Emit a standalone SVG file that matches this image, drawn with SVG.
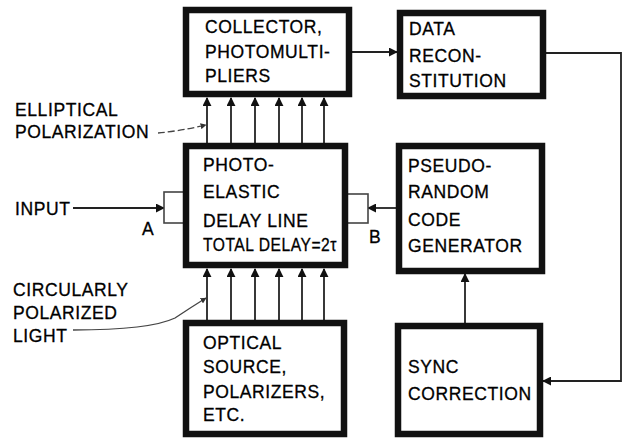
<svg xmlns="http://www.w3.org/2000/svg" width="624" height="439" viewBox="0 0 624 439">
<defs>
<style>
.box{fill:#fff;stroke:#111;stroke-width:6.5}
.port{fill:#fff;stroke:#444;stroke-width:1.6}
.t{font-family:"Liberation Sans",Arial,sans-serif;font-size:17.5px;fill:#000;stroke:#000;stroke-width:0.3;letter-spacing:0.6px}
.ln{fill:none;stroke:#222;stroke-width:1.8}
.lead{fill:none;stroke:#444;stroke-width:1.3}
</style>
<marker id="ahb" viewBox="0 0 10 10" refX="9" refY="5" markerWidth="9" markerHeight="9" markerUnits="userSpaceOnUse" orient="auto">
<path d="M0,0 L10,5 L0,10 z" fill="#111"/>
</marker>
<marker id="ahs" viewBox="0 0 10 10" refX="9" refY="5" markerWidth="6" markerHeight="6" markerUnits="userSpaceOnUse" orient="auto">
<path d="M0,0 L10,5 L0,10 z" fill="#333"/>
</marker>
</defs>
<rect width="624" height="439" fill="#fff"/>

<g id="connectors">
<line class="ln" x1="352" y1="52" x2="397" y2="52" marker-end="url(#ahb)"/>
<polyline class="ln" points="546,53 621,53 621,381 543,381" marker-end="url(#ahb)"/>
<line class="ln" x1="465" y1="323" x2="465" y2="274" marker-end="url(#ahb)"/>
<line class="ln" x1="396" y1="208" x2="368" y2="208" marker-end="url(#ahb)"/>
<line class="ln" x1="73" y1="208" x2="164" y2="208" marker-end="url(#ahb)"/>
<g id="upper-arrows">
<line class="ln" x1="207" y1="143" x2="207" y2="98" marker-end="url(#ahb)"/>
<line class="ln" x1="231" y1="143" x2="231" y2="98" marker-end="url(#ahb)"/>
<line class="ln" x1="255" y1="143" x2="255" y2="98" marker-end="url(#ahb)"/>
<line class="ln" x1="279" y1="143" x2="279" y2="98" marker-end="url(#ahb)"/>
<line class="ln" x1="302" y1="143" x2="302" y2="98" marker-end="url(#ahb)"/>
<line class="ln" x1="324" y1="143" x2="324" y2="98" marker-end="url(#ahb)"/>
</g>
<g id="lower-arrows">
<line class="ln" x1="207" y1="320" x2="207" y2="269" marker-end="url(#ahb)"/>
<line class="ln" x1="231" y1="320" x2="231" y2="269" marker-end="url(#ahb)"/>
<line class="ln" x1="255" y1="320" x2="255" y2="269" marker-end="url(#ahb)"/>
<line class="ln" x1="279" y1="320" x2="279" y2="269" marker-end="url(#ahb)"/>
<line class="ln" x1="302" y1="320" x2="302" y2="269" marker-end="url(#ahb)"/>
<line class="ln" x1="324" y1="320" x2="324" y2="269" marker-end="url(#ahb)"/>
</g>
<path class="lead" stroke-dasharray="7,3" d="M158,133 Q180,131 206,125" marker-end="url(#ahs)"/>
<path class="lead" d="M73,330 Q150,330 175,318 Q190,308 206,298" marker-end="url(#ahs)"/>
</g>

<g id="collector">
<rect class="box" x="186" y="10" width="163" height="84"/>
<text class="t" x="205" y="33">COLLECTOR,</text>
<text class="t" x="205" y="58">PHOTOMULTI-</text>
<text class="t" x="205" y="82">PLIERS</text>
</g>

<g id="data">
<rect class="box" x="400" y="13" width="143" height="83"/>
<text class="t" x="409" y="35">DATA</text>
<text class="t" x="409" y="62">RECON-</text>
<text class="t" x="409" y="87">STITUTION</text>
</g>

<g id="delay-line">
<rect class="port" x="164" y="192" width="20" height="31"/>
<rect class="port" x="346" y="194" width="22" height="29"/>
<rect class="box" x="186" y="146" width="159" height="119"/>
<text class="t" x="203" y="171">PHOTO-</text>
<text class="t" x="203" y="198">ELASTIC</text>
<text class="t" x="203" y="227">DELAY LINE</text>
<text class="t" x="203" y="251" textLength="134" lengthAdjust="spacingAndGlyphs">TOTAL DELAY=2τ</text>
</g>

<g id="pseudo">
<rect class="box" x="399" y="146" width="143" height="125"/>
<text class="t" x="408" y="172">PSEUDO-</text>
<text class="t" x="408" y="198">RANDOM</text>
<text class="t" x="408" y="226">CODE</text>
<text class="t" x="408" y="252">GENERATOR</text>
</g>

<g id="sync">
<rect class="box" x="398" y="326" width="142" height="108"/>
<text class="t" x="408" y="373">SYNC</text>
<text class="t" x="408" y="400">CORRECTION</text>
</g>

<g id="optical">
<rect class="box" x="186" y="323" width="158" height="111"/>
<text class="t" x="203" y="349">OPTICAL</text>
<text class="t" x="203" y="373">SOURCE,</text>
<text class="t" x="203" y="398">POLARIZERS,</text>
<text class="t" x="203" y="421">ETC.</text>
</g>

<g id="labels">
<text class="t" x="15" y="116">ELLIPTICAL</text>
<text class="t" x="15" y="138">POLARIZATION</text>
<text class="t" x="15" y="215">INPUT</text>
<text class="t" x="142" y="235">A</text>
<text class="t" x="369" y="243">B</text>
<text class="t" x="13" y="296">CIRCULARLY</text>
<text class="t" x="13" y="319">POLARIZED</text>
<text class="t" x="13" y="342">LIGHT</text>
</g>
</svg>
